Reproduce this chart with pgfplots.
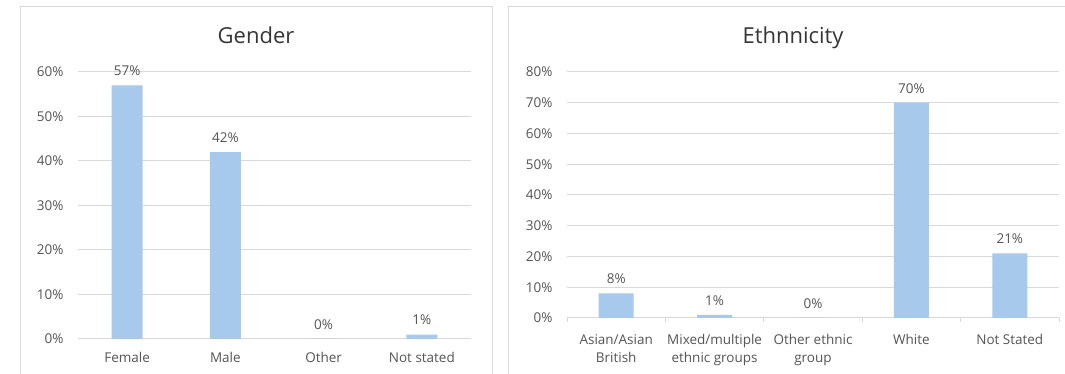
\documentclass[border=0pt]{standalone}
\usepackage{pgfplots}
\pgfplotsset{compat=1.18}
\usepackage{fontspec}
\setmainfont{Open Sans}

\definecolor{barblue}{HTML}{A7C9EB}
\definecolor{labelgrey}{HTML}{555555}
\definecolor{titlegrey}{HTML}{363636}
\definecolor{gridgrey}{HTML}{D9D9D9}

\pgfplotsset{
  survey/.style={
    scale only axis,
    anchor=south west,
    ybar,
    axis line style={draw=none},
    ymajorgrids,
    grid style={gridgrey, line width=1pt},
    major tick length=0pt,
    xtick pos=bottom, ytick pos=left,
    ymin=0,
    yticklabel={\pgfmathprintnumber{\tick}\%},
    ticklabel style={font=\fontsize{13.5}{18}\selectfont, text=labelgrey},
    yticklabel style={xshift=-11pt},
    xticklabel style={yshift=-10pt, align=center},
    /pgf/number format/assume math mode=true,
    nodes near coords={\pgfmathprintnumber{\pgfplotspointmeta}\%},
    every node near coord/.append style={font=\fontsize{13.5}{16}\selectfont, text=labelgrey, yshift=6pt},
  }
}

\begin{document}
\begin{tikzpicture}[x=1pt, y=1pt]
  \fill[white] (0,0) rectangle (1065,374);
  % chart frames
  \draw[gridgrey, line width=1pt] (20,-10) rectangle (492,367);
  \draw[gridgrey, line width=1pt] (508,-10) rectangle (1080,367);
  % titles
  \node[anchor=base, font=\fontsize{22}{26}\selectfont, text=titlegrey] at (256,330) {Gender};
  \node[anchor=base, font=\fontsize{22}{26}\selectfont, text=titlegrey] at (793,330) {Ethnnicity};

  % Gender
  \begin{axis}[survey,
    at={(78pt,35pt)}, width=393pt, height=267pt,
    xmin=-0.5, xmax=3.5, ymax=60,
    ytick={0,10,...,60},
    xtick={0,1,2,3},
    xticklabels={Female,Male,Other,Not stated},
    bar width=31pt,
  ]
    \addplot[fill=barblue, draw=none] coordinates {(0,57) (1,42) (2,0) (3,1)};
  \end{axis}

  % Ethnicity
  \begin{axis}[survey,
    at={(567pt,56pt)}, width=492pt, height=246pt,
    xmin=-0.5, xmax=4.5, ymax=80,
    ytick={0,10,...,80},
    xtick={0,1,2,3,4},
    xticklabels={{Asian/Asian\\British},{Mixed/multiple\\ethnic groups},{Other ethnic\\group},White,Not Stated},
    xticklabel style={yshift=-3pt},
    extra x ticks={-0.5,0.5,1.5,2.5,3.5,4.5},
    extra x tick labels={},
    extra x tick style={major tick length=4pt, tick align=outside, tick style={gridgrey, line width=1pt}},
    bar width=35pt,
  ]
    \addplot[fill=barblue, draw=none] coordinates {(0,8) (1,1) (2,0) (3,70) (4,21)};
  \end{axis}

  \pgfresetboundingbox
  \useasboundingbox (0,0) rectangle (1065,374);
\end{tikzpicture}
\end{document}
